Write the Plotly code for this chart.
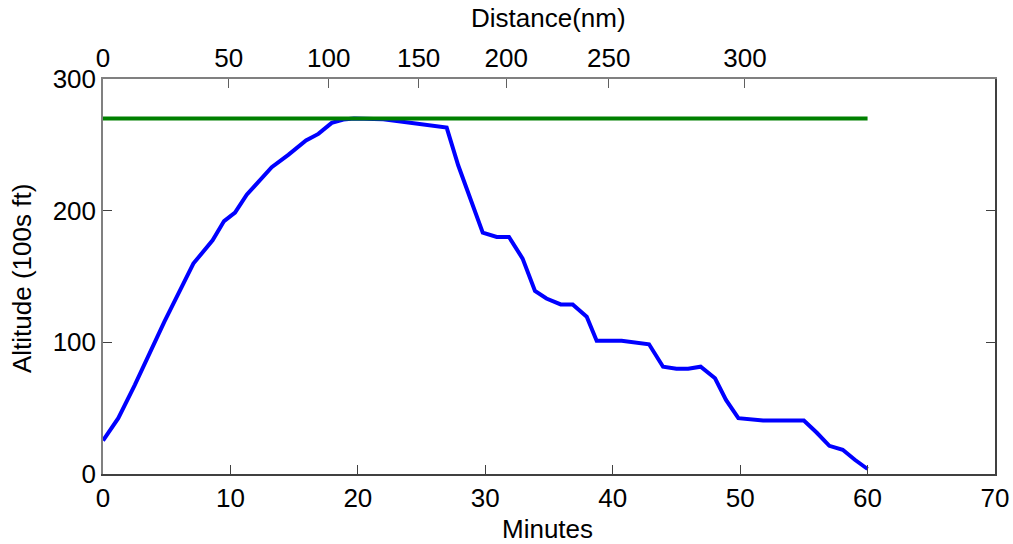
import plotly.graph_objects as go

# Flight profile: altitude (hundreds of feet) against elapsed minutes
minutes = [0.0, 1.2, 2.5, 4.08, 4.81, 7.09, 7.74, 8.6, 9.5, 10.36, 11.28, 12.19,
           13.24, 14.54, 15.93, 16.9, 17.95, 18.86, 19.7, 22.0, 26.97, 27.88,
           29.8, 30.9, 31.86, 32.93, 33.9, 34.8, 35.92, 36.86, 37.96, 38.74,
           40.7, 42.85, 43.95, 45.0, 45.92, 46.9, 48.03, 48.89, 49.86, 51.8,
           55.0, 56.0, 57.0, 58.05, 59.0, 60.0]
altitude = [25.4, 42.4, 67.7, 100.5, 115.6, 159.8, 167.4, 177.5, 192.1, 198.5, 212.1, 222.2,
            233.0, 242.4, 253.3, 258.3, 266.7, 269.2, 270.0, 269.5, 263.1, 234.3,
            183.3, 180.0, 180.0, 163.6, 139.1, 133.3, 128.8, 128.8, 119.4, 101.2,
            101.2, 98.5, 81.5, 80.0, 80.0, 81.5, 72.7, 56.3, 42.4, 40.6,
            40.6, 31.5, 21.4, 18.4, 10.8, 3.8]

# Cruise level reference
cruise_minutes = [0, 60]
cruise_level = [270, 270]

# Distance scale along the top, placed at the minute each distance is reached
distance_labels = ["0", "50", "100", "150", "200", "250", "300"]
distance_at_minute = [0.0, 9.86, 17.71, 24.77, 31.65, 39.69, 50.38]

minute_ticks = [0, 10, 20, 30, 40, 50, 60, 70]
altitude_ticks = [0, 100, 200, 300]

FONT = "Liberation Sans, Arial, sans-serif"
FS = 26
TICK_FONT = dict(family=FONT, size=FS, color="black")

fig = go.Figure()
fig.add_trace(go.Scatter(x=minutes, y=altitude, mode="lines",
                         line=dict(color="#0000FF", width=4), showlegend=False))
fig.add_trace(go.Scatter(x=cruise_minutes, y=cruise_level, mode="lines",
                         line=dict(color="#008000", width=4), showlegend=False))
# invisible trace so the top and right axes are drawn
fig.add_trace(go.Scatter(x=[0], y=[0], xaxis="x2", yaxis="y2", mode="markers",
                         marker=dict(opacity=0), showlegend=False, hoverinfo="skip"))

common = dict(ticks="inside", ticklen=9, showgrid=False, zeroline=False,
              automargin=False, showline=True, linewidth=1.5)

fig.update_layout(
    width=1013, height=544,
    margin=dict(l=103, r=18, t=79, b=70),
    paper_bgcolor="white", plot_bgcolor="white",
    font=dict(family=FONT, color="black"),
    xaxis=dict(range=[0, 70], tickvals=minute_ticks, tickcolor="#404040",
               linecolor="#404040", tickfont=TICK_FONT, **common),
    yaxis=dict(range=[0, 300], tickvals=altitude_ticks, tickcolor="#404040",
               linecolor="#808080", tickfont=TICK_FONT, **common),
    xaxis2=dict(range=[0, 70], overlaying="x", side="top", tickvals=distance_at_minute,
                ticktext=distance_labels, tickcolor="#606060", linecolor="#808080",
                tickfont=TICK_FONT, **common),
    yaxis2=dict(range=[0, 300], overlaying="y", side="right", tickvals=altitude_ticks,
                tickcolor="#404040", showticklabels=False, linecolor="#404040", **common),
    annotations=[
        dict(text="Minutes", xref="paper", yref="paper", x=0.4978, y=-0.1392,
             xanchor="center", yanchor="middle", showarrow=False,
             font=dict(family=FONT, size=FS)),
        dict(text="Distance(nm)", xref="paper", yref="paper", x=0.4989, y=1.1544,
             xanchor="center", yanchor="middle", showarrow=False,
             font=dict(family=FONT, size=FS)),
        dict(text="Altitude (100s ft)", xref="paper", yref="paper", x=-0.0908, y=0.4937,
             xanchor="center", yanchor="middle", textangle=-90, showarrow=False,
             font=dict(family=FONT, size=FS)),
    ],
)

fig.write_html("out.html")
